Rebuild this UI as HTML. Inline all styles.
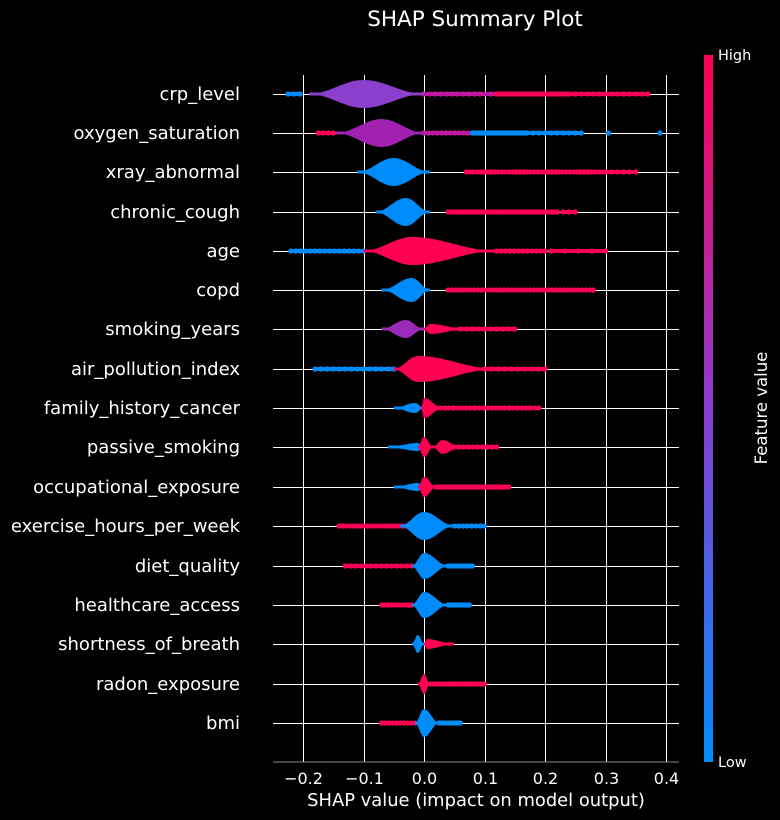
<!DOCTYPE html>
<html><head><meta charset="utf-8"><style>
html,body{margin:0;padding:0;background:#000;}
svg{display:block;font-family:"DejaVu Sans","Liberation Sans",sans-serif;}
</style></head><body>
<svg id="s" width="780" height="820" viewBox="0 0 780 820">
<defs>
<linearGradient id="cb" x1="0" y1="0" x2="0" y2="1">
<stop offset="0" stop-color="#ff0052"/><stop offset="0.5" stop-color="#8a3dd0"/><stop offset="1" stop-color="#008bfb"/>
</linearGradient>
</defs>
<rect width="780" height="820" fill="#000"/>
<g id="grid" stroke="#fff" stroke-width="1" shape-rendering="crispEdges"></g>
<g id="plot"></g>
<line x1="273" y1="762" x2="679" y2="762" stroke="#888" stroke-width="1" shape-rendering="crispEdges"/>
<g id="ticks" fill="#fff" font-size="16" text-anchor="middle"></g>
<text x="476" y="806" fill="#fff" font-size="17.9" text-anchor="middle">SHAP value (impact on model output)</text>
<text x="475" y="26" fill="#fff" font-size="21.5" text-anchor="middle">SHAP Summary Plot</text>
<g id="labels" fill="#fff" font-size="18" text-anchor="end"></g>
<rect x="704" y="55" width="9" height="707" fill="url(#cb)"/>
<text x="718" y="60" fill="#fff" font-size="14.5">High</text>
<text x="718" y="767" fill="#fff" font-size="14.5">Low</text>
<text transform="translate(767,408) rotate(-90)" fill="#fff" font-size="16.5" text-anchor="middle">Feature value</text>
</svg>
<script>
const NS="http://www.w3.org/2000/svg";
function el(t,a,p){const e=document.createElementNS(NS,t);for(const k in a)e.setAttribute(k,a[k]);document.getElementById(p).appendChild(e);return e;}
const X=v=>424+v*605;
const R='#ff0052',B='#008bfb',P='#8c3fcc',M='#c0189e';
const rows=[
["crp_level",94,[[-0.19,0.0,-0.10,14,P]],[[-0.225,-0.205,B,3],[0,0.12,M,14],[0.12,0.24,R,30],[0.24,0.37,R,14]]],
["oxygen_saturation",133,[[-0.145,0.0,-0.07,14,'#a020b0']],[[-0.175,-0.15,R,4],[0,0.08,M,12],[0.08,0.17,B,30],[0.17,0.26,B,10],[0.305,0.31,B,1],[0.39,0.392,B,1]]],
["xray_abnormal",172,[[-0.11,0.01,-0.05,14,B]],[[0.07,0.3,R,40],[0.3,0.35,R,6]]],
["chronic_cough",212,[[-0.08,0.01,-0.03,14,B]],[[0.04,0.22,R,40],[0.23,0.25,R,3]]],
["age",251,[[-0.1,0.12,-0.02,14,R]],[[-0.22,-0.1,B,16],[0.12,0.2,R,12],[0.21,0.3,R,5]]],
["copd",290,[[-0.07,0.01,-0.02,12,B]],[[0.04,0.28,R,40]]],
["smoking_years",329,[[-0.07,0.0,-0.03,9,'#9a2ab8'],[0.0,0.07,0.01,5,R]],[[0.06,0.15,R,10]]],
["air_pollution_index",369,[[-0.05,0.12,-0.01,13,R]],[[-0.18,-0.05,B,14],[0.1,0.2,R,10]]],
["family_history_cancer",408,[[-0.05,0.0,-0.015,5,B],[-0.005,0.03,0.0,10,R]],[[0.02,0.19,R,25]]],
["passive_smoking",447,[[-0.06,0.0,-0.01,4,B],[-0.01,0.015,0.0,10,R],[0.015,0.06,0.03,7,R]],[[0.05,0.12,R,10]]],
["occupational_exposure",487,[[-0.05,0.0,-0.01,4,B],[-0.01,0.02,0.0,10,R]],[[0.02,0.14,R,30]]],
["exercise_hours_per_week",526,[[-0.04,0.05,0.0,14,B]],[[-0.14,-0.03,R,20],[0.05,0.1,B,8]]],
["diet_quality",566,[[-0.02,0.04,0.0,13,B]],[[-0.13,-0.02,R,14],[0.04,0.08,B,10]]],
["healthcare_access",605,[[-0.02,0.04,0.0,13,B]],[[-0.07,-0.02,R,10],[0.04,0.075,B,10]]],
["shortness_of_breath",644,[[-0.02,0.0,-0.01,9,B],[0.0,0.05,0.005,5,R]],[]],
["radon_exposure",684,[[-0.01,0.01,0.0,10,R]],[[0.01,0.1,R,18]]],
["bmi",723,[[-0.015,0.025,0.0,14,B]],[[-0.07,-0.015,R,10],[0.025,0.06,B,10]]]
];
[-0.2,-0.1,0,0.1,0.2,0.3,0.4].forEach(v=>{const x=Math.round(X(v))+0.5;el('line',{x1:x,y1:75,x2:x,y2:762},'grid');const t=el('text',{x:x,y:784},'ticks');t.textContent=(v<0?'\u2212':'')+Math.abs(v).toFixed(1);});
rows.forEach(r=>{el('line',{x1:273,y1:r[1]+0.5,x2:679,y2:r[1]+0.5},'grid');const t=el('text',{x:240,y:r[1]+6},'labels');t.textContent=r[0];});
rows.forEach(r=>{const y=r[1];
 r[3].forEach(d=>{const n=d[3];for(let i=0;i<n;i++){const v=d[0]+(d[1]-d[0])*(n==1?0:i/(n-1));el('circle',{cx:X(v),cy:y,r:2.6,fill:d[2]},'plot');}
  if(n>2)el('rect',{x:X(d[0]),y:y-2,width:X(d[1])-X(d[0]),height:4,fill:d[2]},'plot');});
 r[2].forEach(v=>{const [a,b,p,H,c]=v;let top=[],bot=[];const N=40;
  for(let i=0;i<=N;i++){const u=a+(b-a)*i/N;let t=u<p?(u-a)/(p-a):(b-u)/(b-p);t=Math.max(0,Math.min(1,t));const h=Math.max(1.5,H*(0.5-0.5*Math.cos(Math.PI*t)));top.push(X(u).toFixed(1)+','+(y-h).toFixed(1));bot.unshift(X(u).toFixed(1)+','+(y+h).toFixed(1));}
  el('path',{d:'M'+top.join('L')+'L'+bot.join('L')+'Z',fill:c},'plot');});
});
</script>
</body></html>
